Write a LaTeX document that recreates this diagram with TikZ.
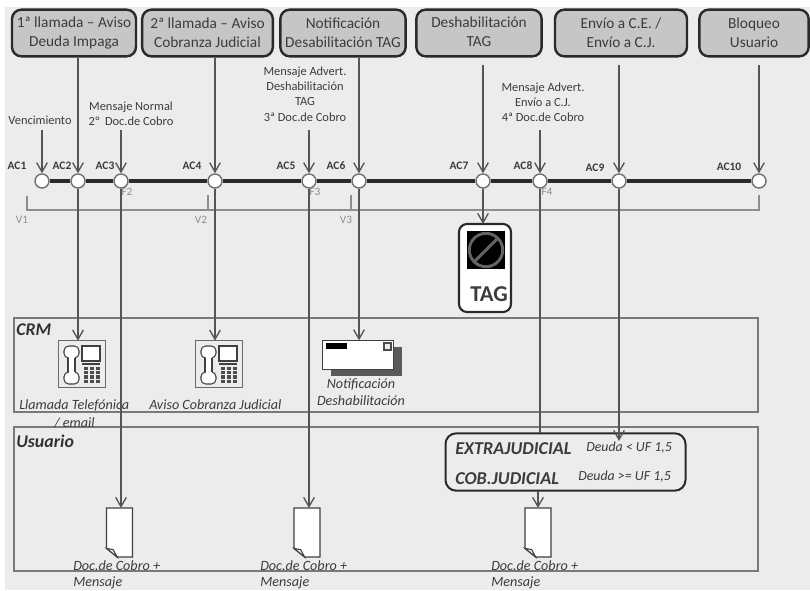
\documentclass[tikz,border=0pt]{standalone}
\usepackage{fontspec}
\setmainfont{Carlito}
\usetikzlibrary{arrows.meta}
\definecolor{bgc}{HTML}{ECECEC}
\definecolor{boxc}{HTML}{C6C6C6}
\definecolor{edgec}{HTML}{2A2A2A}
\definecolor{linec}{HTML}{555555}
\definecolor{txtc}{HTML}{3C3C3C}
\definecolor{softc}{HTML}{8E8E8E}
\tikzset{
  topbox/.style={draw=edgec,fill=boxc,line width=1.8pt,rounded corners=7pt,inner sep=0pt,align=center,font=\fontsize{11.5}{14.5}\selectfont,text=txtc},
  ac/.style={circle,draw=softc!80!black,fill=white,line width=1.1pt,minimum size=10.5pt,inner sep=0pt},
  conn/.style={draw=linec,line width=1pt,-{Straight Barb[length=7pt,width=8pt,line width=1pt]}},
  plainconn/.style={draw=linec,line width=1pt},
  small/.style={font=\fontsize{9.3}{11.4}\selectfont,text=txtc,align=center,inner sep=0pt},
  aclab/.style={font=\bfseries\fontsize{8.6}{10}\selectfont,text=txtc,inner sep=0pt},
  softlab/.style={font=\fontsize{8.5}{10}\selectfont,text=softc,inner sep=0pt},
  lane/.style={draw=softc!85!black,line width=1.2pt},
  lanelab/.style={font=\bfseries\itshape\fontsize{13.4}{15}\selectfont,text=black!80,inner sep=0pt},
  captxt/.style={font=\itshape\fontsize{10.6}{12.6}\selectfont,text=txtc,align=left,inner sep=0pt},
  judlab/.style={font=\bfseries\itshape\fontsize{13.6}{15}\selectfont,text=txtc,inner sep=0pt,anchor=west},
  judnote/.style={font=\itshape\fontsize{10.4}{12}\selectfont,text=txtc,inner sep=0pt,anchor=west},
  icon/.style={inner sep=0pt,outer sep=0pt},
  bracket/.style={draw=softc,line width=.8pt}
}
\newcommand{\phoneicon}[3]{%
  \node[icon,draw=softc!75!black,fill=bgc,line width=1.2pt,minimum width=35pt,minimum height=35pt] (#1) at (#2,#3) {};
  \begin{scope}[shift={(#2,#3)}]
    \draw[draw=black!75,fill=white,line width=.8pt,rounded corners=3.5pt] (-18,-18) rectangle (-3,-6) (-18,8) rectangle (-3,20);
    \fill[white] (-13.5,-8) rectangle (-7.5,10);
    \draw[black!75,line width=.8pt] (-14,-6) -- (-14,8) (-7,-6) -- (-7,8);
    \draw[draw=black!75,fill=white,line width=.8pt] (0,-18) rectangle (18,-3);
    \fill[black!75] (0,-1) rectangle (18,1);
    \foreach \i in {0,1,2} \foreach \j in {0,1,2,3}
      \fill[black!70] (2+6*\i,3+4.2*\j) rectangle ++(4.4,3.2);
  \end{scope}}
\newcommand{\docicon}[3]{%
  \node[icon,minimum width=19.5pt,minimum height=36.75pt] (#1) at (#2,#3) {};
  \draw[draw=black!75,fill=white,line width=1pt] (#1.north west) -- (#1.north east) -- (#1.south east) -- ([xshift=8pt]#1.south west) -- ([yshift=6.5pt]#1.south west) -- cycle;
  \draw[draw=black!75,fill=bgc,line width=.8pt] ([yshift=6.5pt]#1.south west) -- ([xshift=5pt,yshift=5.5pt]#1.south west) -- ([xshift=8pt]#1.south west) -- cycle;}
\begin{document}
\begin{tikzpicture}[x=0.75pt,y=-0.75pt]
\useasboundingbox (0,0) rectangle (810,590);
\fill[bgc] (5,7) rectangle (810,590);
% lanes
\node[lane,icon,minimum width=558pt,minimum height=70.5pt] (crm) at (386,365) {};
\node[lane,icon,minimum width=558pt,minimum height=108pt] (usr) at (386,499) {};
\node[lanelab,anchor=west] (crml) at (16,330) {CRM};
\node[lanelab,anchor=west] (usrl) at (16,441) {Usuario};
% top boxes
\node[topbox,minimum width=93pt,minimum height=35pt] (b1) at (74,33) {\raisebox{3pt}{\begin{tabular}{@{}c@{}}1ª llamada – Aviso\\Deuda Impaga\end{tabular}}};
\node[topbox,minimum width=98pt,minimum height=35pt] (b2) at (207.5,33) {2ª llamada – Aviso\\Cobranza Judicial};
\node[topbox,minimum width=94pt,minimum height=35pt] (b3) at (343,33) {Notificación\\Desabilitación TAG};
\node[topbox,minimum width=94pt,minimum height=35pt] (b4) at (479,33) {\raisebox{2pt}{\begin{tabular}{@{}c@{}}Deshabilitación\\TAG\end{tabular}}};
\node[topbox,minimum width=99pt,minimum height=35pt] (b5) at (621,33) {Envío a C.E. /\\Envío a C.J.};
\node[topbox,minimum width=82pt,minimum height=35pt] (b6) at (754,33) {Bloqueo\\Usuario};
% circles
\foreach \n/\x in {1/42,2/78,3/121,4/215,5/309,6/359,7/483,8/540,9/619,10/759}
  \node[ac] (ac\n) at (\x,181) {};
\draw[edgec,line width=2.6pt] (ac1) -- (ac2) (ac2) -- (ac3) (ac3) -- (ac4) (ac4) -- (ac5) (ac5) -- (ac6) (ac6) -- (ac7) (ac7) -- (ac8) (ac8) -- (ac9) (ac9) -- (ac10);
% AC labels
\node[aclab] (l1) at (17,166) {AC1};
\node[aclab] (l2) at (62,166) {AC2};
\node[aclab] (l3) at (105,166) {AC3};
\node[aclab] (l4) at (192,166) {AC4};
\node[aclab] (l5) at (286,166) {AC5};
\node[aclab] (l6) at (336,166) {AC6};
\node[aclab] (l7) at (459,166) {AC7};
\node[aclab] (l8) at (523,166) {AC8};
\node[aclab] (l9) at (595,168) {AC9};
\node[aclab] (l10) at (729,167) {AC10};
% message labels
\node[small] (m1) at (40,120) {Vencimiento};
\node[small] (m2) at (131,114) {Mensaje Normal\\2º\, Doc.de Cobro};
\node[small] (m3) at (305,94) {Mensaje Advert.\\Deshabilitación\\TAG\\3ª Doc.de Cobro};
\node[small] (m4) at (543,102) {Mensaje Advert.\\Envío a C.J.\\4ª Doc.de Cobro};
\coordinate (c1) at (42,130);
\coordinate (c2) at (121,130);
\coordinate (c3) at (309,130);
\coordinate (c4) at (540,130);
\coordinate (c5) at (483,65);
\coordinate (c6) at (619,65);
\coordinate (c7) at (759,65);
\coordinate (c8) at (619,441);
\draw[conn] (c1) -- (ac1);
\draw[conn] (c2) -- (ac3);
\draw[conn] (c3) -- (ac5);
\draw[conn] (c4) -- (ac8);
\draw[conn] (ac2 |- b1.south) -- (ac2);
\draw[conn] (ac4 |- b2.south) -- (ac4);
\draw[conn] (ac6 |- b3.south) -- (ac6);
\draw[conn] (c5) -- (ac7);
\draw[conn] (c6) -- (ac9);
\draw[conn] (c7) -- (ac10);
% bracket
\coordinate (v1a) at (27,196); \coordinate (v1b) at (27,210);
\coordinate (v2a) at (208,195); \coordinate (v2b) at (208,210);
\coordinate (v3a) at (351,195); \coordinate (v3b) at (351,210);
\coordinate (v4a) at (759,195); \coordinate (v4b) at (759,210);
\draw[bracket] (v1a) -- (v1b) -- (v4b) -- (v4a) (v2a) -- (v2b) (v3a) -- (v3b);
\node[softlab] (v1) at (22,220) {V1};
\node[softlab] (v2) at (201,220) {V2};
\node[softlab] (v3) at (346,220) {V3};
\node[softlab] (f2) at (127,192) {F2};
\node[softlab] (f3) at (315,192) {F3};
\node[softlab] (f4) at (547,192) {F4};
% TAG
\node[icon,draw=edgec,fill=white,line width=1.6pt,rounded corners=6pt,minimum width=39pt,minimum height=66pt] (tag) at (485,268) {};
\node[icon,fill=black,minimum width=28pt,minimum height=28pt] (tagsq) at (486,250) {};
\draw[softc!70!black,line width=2.2pt] (tagsq) circle (12.5pt);
\draw[softc!70!black,line width=2.2pt] ([xshift=-8.8pt,yshift=-8.8pt]tagsq.center) -- ([xshift=8.8pt,yshift=8.8pt]tagsq.center);
\node[font=\bfseries\fontsize{17}{20}\selectfont,text=txtc,inner sep=0pt] (tagt) at (489,294) {TAG};
\draw[conn] (ac7) -- (ac7 |- tag.north);
% icons
\phoneicon{p1}{82}{364}
\phoneicon{p2}{219}{364}
\fill[black!65] (331,347) rectangle (402,376);
\node[icon,draw=black!75,fill=white,line width=1pt,minimum width=53pt,minimum height=22pt] (env) at (358,355) {};
\fill[black] (326,343) rectangle (347,349);
\draw[black!70,fill=bgc,line width=.8pt] (384,343) rectangle (391,350);
\docicon{d1}{119.5}{532.5}
\docicon{d2}{307}{532.5}
\docicon{d3}{538}{532.5}
% captions
\node[captxt,anchor=west] (t1) at (19,405) {Llamada Telefónica};
\node[captxt,anchor=west] (t1b) at (54,423) {/ email};
\node[captxt,anchor=west] (t2) at (149,405) {Aviso Cobranza Judicial};
\node[captxt,align=center] (t3) at (361,392) {Notificación\\Deshabilitación};
\node[captxt,anchor=north west] (t4) at (73,560) {Doc.de Cobro +\\Mensaje};
\node[captxt,anchor=north west] (t5) at (260,560) {Doc.de Cobro +\\Mensaje};
\node[captxt,anchor=north west] (t6) at (491,560) {Doc.de Cobro +\\Mensaje};
% judicial box
\node[icon,draw=edgec,fill=bgc,line width=1.5pt,rounded corners=8pt,minimum width=180pt,minimum height=43pt] (jud) at (565.5,462) {};
\node[judlab] (e1) at (455,449) {EXTRAJUDICIAL};
\node[judlab] (e2) at (455,479) {COB.JUDICIAL};
\node[judnote] (e3) at (586,448) {Deuda < UF 1,5};
\node[judnote] (e4) at (578,477) {Deuda >= UF 1,5};
% long connectors
\draw[conn] (ac2) -- (ac2 |- p1.north);
\draw[conn] (ac3) -- (d1.north -| ac3);
\draw[conn] (ac4) -- (ac4 |- p2.north);
\draw[conn] (ac5) -- (d2.north -| ac5);
\draw[conn] (ac6) -- (ac6 |- env.north);
\draw[plainconn] (ac8) -- (ac8 |- jud.north);
\draw[conn] (ac9) -- (c8);
\draw[conn] (d3.north |- jud.south) -- (d3.north);
\end{tikzpicture}
\end{document}
